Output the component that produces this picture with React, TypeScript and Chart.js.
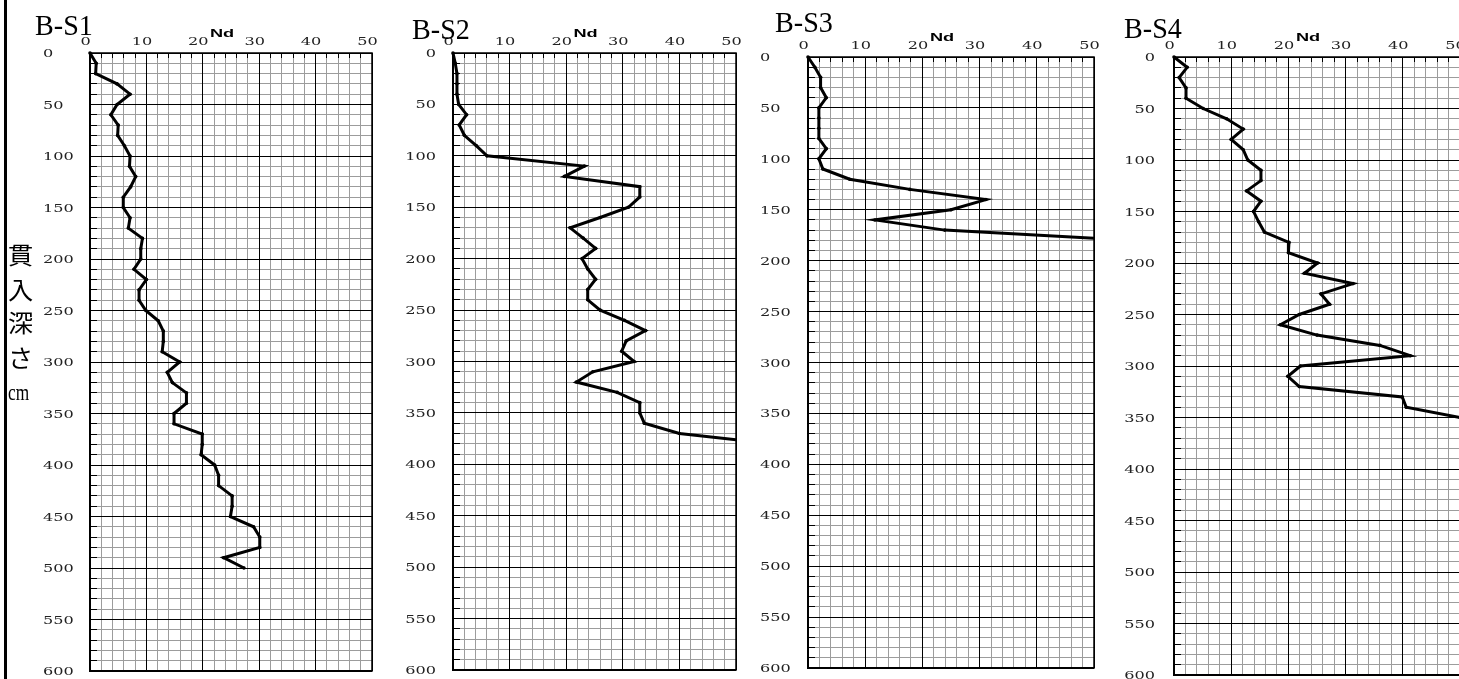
import React, { useEffect, useRef } from 'react';
import { Chart, registerables } from 'chart.js';

Chart.register(...registerables);

// ---------- data ----------
const TITLES = ['B-S1', 'B-S2', 'B-S3', 'B-S4'];
const X_AXIS_TITLE = 'Nd';
const Y_AXIS_TITLE = ['貫', '入', '深', 'さ', 'cm'];
const X_TICK_LABELS = [0, 10, 20, 30, 40, 50];
const Y_TICK_LABELS = [0, 50, 100, 150, 200, 250, 300, 350, 400, 450, 500, 550, 600];

const S1_DEPTH = [0, 10, 20, 30, 40, 50, 60, 70, 80, 90, 100, 110, 120, 130, 140, 150, 160, 170, 180, 190, 200, 210, 220, 230, 240, 250, 260, 270, 280, 290, 300, 310, 320, 330, 340, 350, 360, 370, 380, 390, 400, 410, 420, 430, 440, 450, 460, 470, 480, 490, 500];
const S1_ND = [0, 1.1, 1, 4.8, 7.1, 4.8, 3.7, 5, 4.9, 6.1, 7.1, 7, 8.1, 7.2, 5.9, 5.9, 7.1, 6.8, 9.3, 9, 9, 7.8, 10, 8.7, 8.7, 9.9, 12.1, 13, 13, 12.8, 15.9, 13.7, 14.6, 17.1, 17.1, 14.9, 14.9, 19.9, 19.9, 19.7, 22.1, 22.8, 22.8, 25.2, 25.2, 24.9, 29, 30.1, 30.1, 23.7, 27.3];

const S2_DEPTH = [0, 10, 20, 30, 40, 50, 60, 70, 80, 90, 100, 110, 120, 130, 140, 150, 160, 170, 180, 190, 200, 210, 220, 230, 240, 250, 260, 270, 280, 290, 300, 310, 320, 330, 340, 350, 360, 370, 380];
const S2_ND = [0, 0.4, 0.7, 0.7, 0.7, 1, 2.4, 1.1, 2, 4.1, 6, 23.2, 19.7, 33, 33, 31, 26, 20.7, 23, 25.2, 22.8, 23.8, 25.2, 23.8, 23.8, 26, 30.3, 34, 30.6, 29.8, 32, 24.7, 21.8, 29, 33, 33, 33.8, 40, 56.7];

const S3_DEPTH = [0, 10, 20, 30, 40, 50, 60, 70, 80, 90, 100, 110, 120, 130, 140, 150, 160, 170, 180];
const S3_ND = [0, 1.2, 2.2, 2.2, 3.2, 1.9, 1.9, 1.9, 1.9, 3.2, 1.9, 2.6, 7.3, 17.8, 31.1, 25, 11.7, 23.9, 56.5];

const S4_DEPTH = [0, 10, 20, 30, 40, 50, 60, 70, 80, 90, 100, 110, 120, 130, 140, 150, 160, 170, 180, 190, 200, 210, 220, 230, 240, 250, 260, 270, 280, 290, 300, 310, 320, 330, 340, 350];
const S4_ND = [0, 2.3, 0.9, 2.1, 2.1, 5.1, 9.2, 12.1, 10, 12.1, 12.9, 15.2, 15.2, 12.7, 15.2, 13.9, 14.8, 15.8, 20.1, 20, 25.1, 22.8, 31.3, 25.7, 27.2, 21.9, 18.6, 25, 36, 41.3, 22.1, 19.9, 21.9, 39.9, 40.6, 50];

// ---------- layout ----------
const CW = 1470;
const CH = 679;

type Panel = {
  title: string;
  depth: number[];
  nd: number[];
  left: number;
  right: number;
  top: number;
  bottom: number;
  titleX: number;
  titleY: number;
  yAlign: 'left' | 'right';
  yLabelX: number;
  first: boolean;
};

const PANELS: Panel[] = [
  { title: TITLES[0], depth: S1_DEPTH, nd: S1_ND, left: 90, right: 372, top: 53, bottom: 671, titleX: 35, titleY: 35, yAlign: 'left', yLabelX: 43, first: true },
  { title: TITLES[1], depth: S2_DEPTH, nd: S2_ND, left: 453, right: 736, top: 53, bottom: 670, titleX: 412, titleY: 39, yAlign: 'right', yLabelX: 436, first: false },
  { title: TITLES[2], depth: S3_DEPTH, nd: S3_ND, left: 808, right: 1094, top: 57, bottom: 668, titleX: 775, titleY: 32, yAlign: 'left', yLabelX: 760, first: false },
  { title: TITLES[3], depth: S4_DEPTH, nd: S4_ND, left: 1174, right: 1460, top: 57, bottom: 675, titleX: 1124, titleY: 38, yAlign: 'right', yLabelX: 1155, first: false },
];

const MINOR = '#9c9c9c';
const align = (p: number) => Math.round(p - 0.5) + 0.5;

function stretchText(ctx: CanvasRenderingContext2D, text: string, x: number, y: number, textAlign: CanvasTextAlign, sx: number) {
  ctx.save();
  ctx.translate(x, y);
  ctx.scale(sx, 1);
  ctx.textAlign = textAlign;
  ctx.textBaseline = 'alphabetic';
  ctx.fillText(text, 0, 0);
  ctx.restore();
}

function makePlugin(p: Panel) {
  return {
    id: 'deco',
    beforeDatasetsDraw(chart: any) {
      const { ctx, chartArea: a } = chart;
      const xs = chart.scales.x;
      const ys = chart.scales.y;
      ctx.save();
      ctx.strokeStyle = '#000';
      ctx.lineWidth = 1;
      ctx.beginPath();
      // major lines on top of minor ones
      xs.ticks.forEach((t: any) => {
        if (t.value % 10 === 0) {
          const px = align(xs.getPixelForValue(t.value));
          ctx.moveTo(px, a.top);
          ctx.lineTo(px, a.bottom);
        } else {
          const px = align(xs.getPixelForValue(t.value));
          ctx.moveTo(px, a.top);
          ctx.lineTo(px, a.top + 5);
        }
      });
      ys.ticks.forEach((t: any) => {
        const py = align(ys.getPixelForValue(t.value));
        if (t.value % 50 === 0) {
          ctx.moveTo(a.left, py);
          ctx.lineTo(a.right, py);
        } else {
          ctx.moveTo(a.left, py);
          ctx.lineTo(a.left + 7, py);
        }
      });
      ctx.stroke();
      ctx.restore();
    },
    afterDatasetsDraw(chart: any) {
      const { ctx, chartArea: a } = chart;
      ctx.save();
      ctx.strokeStyle = '#000';
      ctx.lineWidth = 1.5;
      ctx.strokeRect(a.left, a.top, a.right - a.left, a.bottom - a.top);
      ctx.lineWidth = 2;
      ctx.beginPath();
      ctx.moveTo(a.left, a.top);
      ctx.lineTo(a.left, a.bottom);
      ctx.lineTo(a.right, a.bottom);
      ctx.stroke();
      ctx.restore();
    },
    afterDraw(chart: any) {
      const { ctx, chartArea: a } = chart;
      const xs = chart.scales.x;
      const ys = chart.scales.y;
      ctx.save();
      // x tick labels
      ctx.fillStyle = '#222';
      ctx.font = '11.5px "DejaVu Serif"';
      X_TICK_LABELS.forEach((v) => {
        stretchText(ctx, String(v), xs.getPixelForValue(v) - 4.5, a.top - 8, 'center', 1.4);
      });
      // y tick labels
      Y_TICK_LABELS.forEach((v) => {
        stretchText(ctx, String(v), p.yLabelX, ys.getPixelForValue(v) + 4, p.yAlign, 1.4);
      });
      // axis title Nd
      ctx.fillStyle = '#000';
      ctx.font = 'bold 11px "Liberation Sans"';
      stretchText(ctx, X_AXIS_TITLE, xs.getPixelForValue(25) - 9, a.top - 16.5, 'center', 1.65);
      // panel title
      ctx.font = '29px "Liberation Serif"';
      stretchText(ctx, p.title, p.titleX, p.titleY, 'left', 0.97);
      if (p.first) {
        ctx.fillStyle = '#000';
        ctx.fillRect(4, 0, 3, CH);
        const ys0 = [255, 290, 323, 358, 394];
        Y_AXIS_TITLE.forEach((ch, i) => {
          if (ch === 'cm') {
            ctx.font = '24px "Liberation Serif"';
            stretchText(ctx, ch, 8, ys0[i] + 6, 'left', 0.72);
          } else {
            ctx.font = '24px "Noto Sans CJK JP"';
            stretchText(ctx, ch, 8, ys0[i] + 9, 'left', 1.05);
          }
        });
      }
      ctx.restore();
    },
  };
}

function PanelChart({ p }: { p: Panel }) {
  const ref = useRef<HTMLCanvasElement | null>(null);
  useEffect(() => {
    if (!ref.current) return;
    const points = p.depth.map((d, i) => ({ x: p.nd[i], y: d }));
    const chart = new Chart(ref.current, {
      type: 'scatter',
      data: {
        datasets: [
          {
            data: points,
            showLine: true,
            borderColor: '#000',
            backgroundColor: '#000',
            borderWidth: 3,
            pointRadius: 1.8,
            pointBorderWidth: 0,
            pointBackgroundColor: '#000',
            tension: 0,
            clip: { left: 4, top: 4, right: 0, bottom: 4 } as any,
          } as any,
        ],
      },
      options: {
        responsive: false,
        animation: false,
        events: [],
        layout: {
          padding: { left: p.left - 10, top: p.top - 10, right: CW - p.right, bottom: CH - p.bottom },
        },
        plugins: {
          legend: { display: false },
          tooltip: { enabled: false },
          title: { display: false },
        },
        scales: {
          x: {
            type: 'linear',
            position: 'top',
            min: 0,
            max: 50,
            ticks: { display: false, stepSize: 2, autoSkip: false },
            grid: {
              color: (c: any) => (c.tick && c.tick.value % 10 === 0 ? '#000' : MINOR),
              lineWidth: 1,
              drawTicks: false,
            },
            border: { display: false },
            afterFit: (s: any) => {
              s.height = 10;
            },
          },
          y: {
            type: 'linear',
            position: 'left',
            reverse: true,
            min: 0,
            max: 600,
            ticks: { display: false, stepSize: 10, autoSkip: false },
            grid: {
              color: (c: any) => (c.tick && c.tick.value % 50 === 0 ? '#000' : MINOR),
              lineWidth: 1,
              drawTicks: false,
            },
            border: { display: false },
            afterFit: (s: any) => {
              s.width = 10;
            },
          },
        } as any,
      },
      plugins: [makePlugin(p)],
    });
    return () => chart.destroy();
  }, [p]);
  return (
    <canvas
      ref={ref}
      width={CW}
      height={CH}
      style={{ position: 'absolute', left: 0, top: 0, width: CW, height: CH }}
    />
  );
}

export default function App() {
  return (
    <div
      style={{
        position: 'fixed',
        left: 0,
        top: 0,
        width: 1459,
        height: 679,
        overflow: 'hidden',
        background: '#fff',
      }}
    >
      {PANELS.map((p) => (
        <PanelChart key={p.title} p={p} />
      ))}
    </div>
  );
}
